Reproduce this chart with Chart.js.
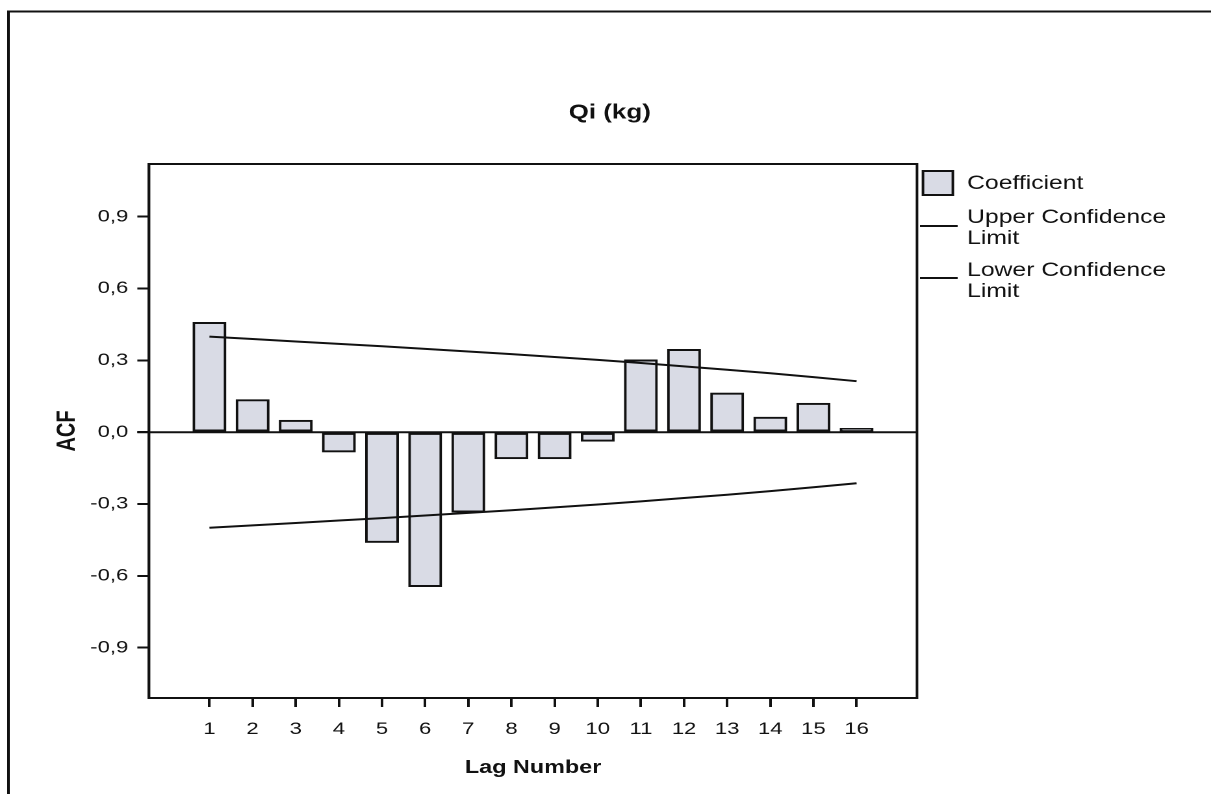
<!DOCTYPE html>
<html>
<head>
<meta charset="utf-8">
<script src="https://cdn.jsdelivr.net/npm/chart.js@4/dist/chart.umd.min.js"></script>
<style>
  html, body { margin: 0; padding: 0; background: #fff; overflow: hidden; }
  /* the scanned SPSS chart is stretched sideways, so draw narrow and widen */
  #wrap { width: 932px; height: 794px; transform: scaleX(1.2994); transform-origin: 0 0; }
</style>
</head>
<body>
<div id="wrap"><canvas id="acfChart"></canvas></div>
<script>
// lag numbers and autocorrelations
const lags = [1, 2, 3, 4, 5, 6, 7, 8, 9, 10, 11, 12, 13, 14, 15, 16];
const acf = [0.459, 0.136, 0.05, -0.083, -0.461, -0.645, -0.334, -0.111, -0.111, -0.038, 0.302, 0.346, 0.164, 0.063, 0.121, 0.016];
const upperLimit = [0.399, 0.389, 0.379, 0.369, 0.359, 0.348, 0.337, 0.326, 0.314, 0.302, 0.289, 0.275, 0.261, 0.246, 0.230, 0.213];
const lowerLimit = [-0.399, -0.389, -0.379, -0.369, -0.359, -0.348, -0.337, -0.326, -0.314, -0.302, -0.289, -0.275, -0.261, -0.246, -0.230, -0.213];
const yTicks = [-0.9, -0.6, -0.3, 0, 0.3, 0.6, 0.9];
const legendLabels = [["Coefficient"], ["Upper Confidence", "Limit"], ["Lower Confidence", "Limit"]];

const FONT = "'Liberation Sans', Arial, Helvetica, sans-serif";
const INK = "#111";
const BAR_FILL = "#d9dbe5";

function pairs(ys) {
  return lags.map(function (l, i) { return { x: l, y: ys[i] }; });
}

// frame, zero line, titles and legend in the SPSS style
const spssDecor = {
  id: "spssDecor",
  afterDatasetsDraw(chart) {
    const ctx = chart.ctx;
    const a = chart.chartArea;
    const y = chart.scales.y;
    ctx.save();
    ctx.strokeStyle = INK;
    ctx.lineWidth = 2;

    // outer frame (left and top only, like the scan)
    ctx.beginPath();
    ctx.moveTo(6.5, chart.height);
    ctx.lineTo(6.5, 11.5);
    ctx.lineTo(chart.width, 11.5);
    ctx.stroke();

    // plot box
    ctx.strokeRect(a.left, a.top, a.right - a.left, a.bottom - a.top);

    // zero line
    const y0 = y.getPixelForValue(0);
    ctx.beginPath();
    ctx.moveTo(a.left - 9, y0);
    ctx.lineTo(a.right, y0);
    ctx.stroke();

    // titles
    ctx.fillStyle = INK;
    ctx.textAlign = "center";
    ctx.textBaseline = "middle";
    ctx.font = "bold 20px " + FONT;
    ctx.fillText("Qi (kg)", (6.5 + chart.width) / 2, 113);
    ctx.font = "bold 18px " + FONT;
    ctx.fillText("Lag Number", (a.left + a.right) / 2, 768);
    ctx.save();
    ctx.translate(52, (a.top + a.bottom) / 2);
    ctx.rotate(-Math.PI / 2);
    ctx.font = "bold 20px " + FONT;
    ctx.fillText("ACF", 0, 0);
    ctx.restore();

    // legend
    const lx = a.right + 4.6;
    ctx.textAlign = "left";
    ctx.font = "19px " + FONT;
    ctx.fillStyle = BAR_FILL;
    ctx.fillRect(lx, 171, 23, 24);
    ctx.strokeRect(lx, 171, 23, 24);
    ctx.fillStyle = INK;
    ctx.fillText(legendLabels[0][0], lx + 34, 184);

    ctx.lineWidth = 2;
    const rows = [{ line: 226, text: [218, 239] }, { line: 278, text: [271, 292] }];
    rows.forEach(function (r, i) {
      ctx.beginPath();
      ctx.moveTo(lx - 2.3, r.line);
      ctx.lineTo(lx + 26.7, r.line);
      ctx.stroke();
      legendLabels[i + 1].forEach(function (t, k) {
        ctx.fillText(t, lx + 34, r.text[k]);
      });
    });
    ctx.restore();
  }
};

new Chart("acfChart", {
  type: "bar",
  data: {
    datasets: [
      {
        type: "line",
        label: legendLabels[1].join(" "),
        data: pairs(upperLimit),
        borderColor: INK,
        borderWidth: 2,
        pointRadius: 0,
        tension: 0,
        fill: false,
        order: 1,
      },
      {
        type: "line",
        label: legendLabels[2].join(" "),
        data: pairs(lowerLimit),
        borderColor: INK,
        borderWidth: 2,
        pointRadius: 0,
        tension: 0,
        fill: false,
        order: 1,
      },
      {
        type: "bar",
        label: legendLabels[0][0],
        data: pairs(acf),
        backgroundColor: BAR_FILL,
        borderColor: INK,
        borderWidth: 2,
        borderSkipped: false,
        barThickness: 25.4,
        order: 2,
      },
    ],
  },
  options: {
    responsive: true,
    maintainAspectRatio: false,
    devicePixelRatio: 2,
    animation: false,
    layout: {
      padding: { left: 14.7, right: 226.3, top: 164, bottom: 56 },
    },
    plugins: {
      legend: { display: false },
      title: { display: false },
      tooltip: { enabled: false },
    },
    scales: {
      x: {
        type: "linear",
        min: -0.4,
        max: 17.4,
        offset: false,
        afterFit: function (s) { s.height = 40; },
        afterBuildTicks: function (s) { s.ticks = lags.map(function (v) { return { value: v }; }); },
        grid: { offset: false, drawOnChartArea: false, drawTicks: true, tickLength: 9, color: INK, lineWidth: 2 },
        border: { display: true, color: INK, width: 2 },
        ticks: {
          autoSkip: false,
          maxRotation: 0,
          padding: 12,
          color: INK,
          font: { family: FONT, size: 17 },
        },
      },
      y: {
        min: -1.11,
        max: 1.12,
        afterFit: function (s) { s.width = 100; },
        afterBuildTicks: function (s) { s.ticks = yTicks.map(function (v) { return { value: v }; }); },
        grid: { drawOnChartArea: false, drawTicks: true, tickLength: 9, color: INK, lineWidth: 2 },
        border: { display: true, color: INK, width: 2 },
        ticks: {
          padding: 7,
          color: INK,
          font: { family: FONT, size: 17 },
          callback: function (v) { return v.toFixed(1).replace(".", ","); },
        },
      },
    },
  },
  plugins: [spssDecor],
});
</script>
</body>
</html>
